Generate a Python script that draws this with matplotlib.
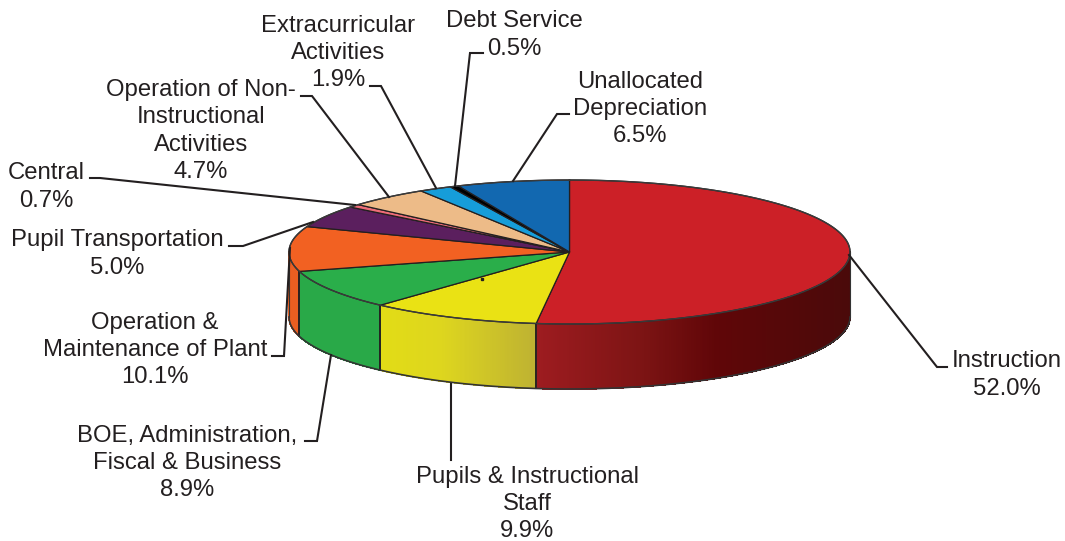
import numpy as np
import matplotlib
matplotlib.use("Agg")
import matplotlib.pyplot as plt
from matplotlib.patches import Polygon

plt.rcParams['font.family'] = ['Liberation Sans', 'DejaVu Sans']

names = ['Instruction', 'Pupils & Instructional\nStaff', 'BOE, Administration,\nFiscal & Business',
         'Operation &\nMaintenance of Plant', 'Pupil Transportation', 'Central',
         'Operation of Non-\nInstructional\nActivities', 'Extracurricular\nActivities',
         'Debt Service', 'Unallocated\nDepreciation']
values = [52.0, 9.9, 8.9, 10.1, 5.0, 0.7, 4.7, 1.9, 0.5, 6.5]
colors = ['#CC2027', '#EAE214', '#2AAE4A', '#F26122', '#5B1F5E',
          '#EE6C78', '#EDBB88', '#169DD9', '#000000', '#1268B0']

# label centres in pixels
label_x = [1006.5, 527, 187, 155, 117, 46, 201, 338, 514, 640]
label_y = [375, 504, 463, 350, 254, 187, 131, 53, 35, 109]

# leader lines
leaders = [
    [(849, 255), (937, 367), (947, 367)],
    [(451, 384), (451, 460)],
    [(331, 355), (317, 441), (305, 441)],
    [(290, 248), (284, 356), (272, 356)],
    [(313, 222), (243, 246), (229, 246)],
    [(355, 205), (100, 178), (90, 178)],
    [(389, 197), (312, 96), (301, 96)],
    [(436, 188), (381, 86), (370, 86)],
    [(455, 186), (470, 53), (483, 53)],
    [(513, 181), (557, 114), (569, 114)],
]

cx, cy, rx, ry, depth = 569.5, 252, 280.5, 72, 65
line_col = '#231F20'


def edge(theta):
    return cx + rx * np.sin(theta), cy - ry * np.cos(theta)


# gradient along the front wall (x pixel -> rgb)
def shade(col, x):
    rgb = np.array(matplotlib.colors.to_rgb(col))
    if col == '#CC2027':
        stops = [535, 640, 715, 850]
        r = np.interp(x, stops, [158, 125, 96, 74])
        g = np.interp(x, stops, [28, 20, 6, 10])
        b = np.interp(x, stops, [32, 20, 8, 10])
        return (r / 255, g / 255, b / 255)
    if col == '#EAE214':
        stops = [380, 440, 535]
        r = np.interp(x, stops, [226, 222, 190])
        g = np.interp(x, stops, [220, 214, 178])
        b = np.interp(x, stops, [22, 30, 50])
        return (r / 255, g / 255, b / 255)
    return tuple(rgb * 0.97)


fig = plt.figure(figsize=(10.65, 5.41), dpi=100)
ax = fig.add_axes([0, 0, 1, 1])
ax.set_xlim(0, 1065)
ax.set_ylim(541, 0)
ax.axis('off')

total = sum(values)
angles = np.concatenate([[0], np.cumsum(values)]) / total * 2 * np.pi

# front wall, strips without antialiasing so there are no seams
for i, col in enumerate(colors):
    t0 = max(angles[i], np.pi / 2)
    t1 = min(angles[i + 1], 3 * np.pi / 2)
    if t1 <= t0:
        continue
    ts = np.linspace(t0, t1, int((t1 - t0) * 140) + 2)
    for a, b in zip(ts[:-1], ts[1:]):
        xa, ya = edge(a)
        xb, yb = edge(b)
        c = shade(col, (xa + xb) / 2)
        ax.add_patch(Polygon([(xa, ya), (xb, yb), (xb, yb + depth), (xa, ya + depth)],
                             facecolor=c, edgecolor=c, lw=0.5, antialiased=False, zorder=1))
    for t in [t0, t1]:
        if np.pi / 2 < t < 3 * np.pi / 2:
            x, y = edge(t)
            ax.plot([x, x], [y, y + depth], color=line_col, lw=1.1, zorder=2)

# wall outline
ts = np.linspace(np.pi / 2, 3 * np.pi / 2, 300)
xs, ys = edge(ts)
ax.plot(xs, ys + depth, color='#333333', lw=1.2, zorder=2)
ax.plot([cx + rx, cx + rx], [cy, cy + depth], color='#333333', lw=0.8, zorder=2)
ax.plot([cx - rx, cx - rx], [cy, cy + depth], color='#333333', lw=0.8, zorder=2)

# top face
for i, col in enumerate(colors):
    ts = np.linspace(angles[i], angles[i + 1], max(int((angles[i + 1] - angles[i]) * 100), 4))
    xs, ys = edge(ts)
    ax.add_patch(Polygon(np.vstack([[cx, cy], np.column_stack([xs, ys])]),
                         facecolor=col, edgecolor=line_col, lw=0.9, joinstyle='round', zorder=3))

ts = np.linspace(0, 2 * np.pi, 600)
xs, ys = edge(ts)
ax.plot(xs, ys, color='#3A3A3A', lw=1.0, zorder=4)

for pts in leaders:
    px, py = zip(*pts)
    ax.plot(px, py, color=line_col, lw=1.5, solid_joinstyle='miter', zorder=5)

ax.plot([482], [279], marker='s', ms=1.6, color=line_col, zorder=5)

for name, val, x, y in zip(names, values, label_x, label_y):
    ax.text(x, y, '%s\n%.1f%%' % (name, val), ha='center', va='center',
            fontsize=17.2, color=line_col, linespacing=1.31, zorder=6)

fig.savefig('out.png', dpi=100)
